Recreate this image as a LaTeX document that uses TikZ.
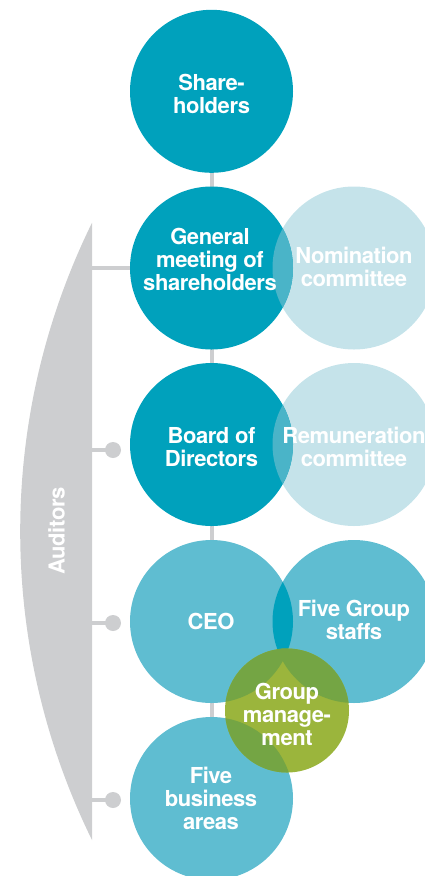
\documentclass[tikz,border=0pt]{standalone}
\usepackage{fontspec}
\setmainfont{TeX Gyre Heros}[LetterSpace=-2]
\usetikzlibrary{backgrounds}
\definecolor{tealdark}{HTML}{00A1BC}
\definecolor{teallight}{HTML}{C5E3EA}
\definecolor{tealmix}{HTML}{4AB4C8}
\definecolor{tealmid}{HTML}{5FBDD1}
\definecolor{leaf}{HTML}{9BB53C}
\definecolor{leafdark}{HTML}{74A544}
\definecolor{linkgray}{HTML}{CDCED0}
\begin{document}
\begin{tikzpicture}[x=1pt,y=-1pt,
  disc/.style={circle, inner sep=0pt, minimum size=163pt},
  lbl/.style={text=white, font=\bfseries\fontsize{22}{23}\selectfont,
    align=center, inner sep=0pt, anchor=north},
  link/.style={draw=linkgray, line width=4pt},
  knob/.style={circle, fill=linkgray, inner sep=0pt, minimum size=16pt}]
\useasboundingbox (0,0) rectangle (425,876);
\clip (0,0) rectangle (425,876);

% Auditors bar
\fill[linkgray] (92,840) arc[start angle=153.8, end angle=206.2, radius=699] -- cycle;
\node[lbl, anchor=center, rotate=90] (aud) at (56.5,531) {Auditors};

% governance circles
\node[disc, fill=tealdark] (sh) at (211.5,91.3) {};
\node[disc, fill=teallight] (nom) at (354,268) {};
\node[disc, fill=tealdark] (gm) at (211.5,268) {};
\begin{scope}
  \clip (gm.center) circle[radius=81.5];
  \fill[tealmix] (nom.center) circle[radius=81.5];
\end{scope}
\node[disc, fill=teallight] (rem) at (354,444.5) {};
\node[disc, fill=tealdark] (bd) at (211.5,444.5) {};
\begin{scope}
  \clip (bd.center) circle[radius=81.5];
  \fill[tealmix] (rem.center) circle[radius=81.5];
\end{scope}

% operational circles
\node[disc, fill=tealmid] (ceo) at (211.5,621.5) {};
\node[disc, fill=tealmid] (gs) at (354,621.5) {};
\node[disc, fill=tealmid] (ba) at (211.5,798.5) {};
\begin{scope}
  \clip (ceo.center) circle[radius=81.5];
  \fill[tealdark] (gs.center) circle[radius=81.5];
\end{scope}
\node[circle, inner sep=0pt, minimum size=124pt, fill=leaf] (gmt) at (287,710.5) {};
\foreach \o in {ceo,gs,ba}{
  \begin{scope}
    \clip (gmt.center) circle[radius=62];
    \fill[leafdark] (\o.center) circle[radius=81.5];
  \end{scope}
}

% knobs and anchor points on the Auditors bar
\coordinate (a1) at (92,268);
\coordinate (a2) at (92,450);
\coordinate (a3) at (92,623);
\coordinate (a4) at (92,800);
\node[knob] (kb) at (113,450) {};
\node[knob] (kc) at (113,623) {};
\node[knob] (ka) at (113,800) {};

\begin{pgfonlayer}{background}
  \draw[link] (sh.center) -- (ba.center);
  \draw[link] (a1) -- (gm.center);
  \draw[link] (a2) -- (kb.center);
  \draw[link] (a3) -- (kc.center);
  \draw[link] (a4) -- (ka.center);
\end{pgfonlayer}

% texts
\node[lbl] (t-sh) at (211.5,74) {Share-\\holders};
\node[lbl] (t-gm) at (210,228) {General\\meeting of\\shareholders};
\node[lbl] (t-nom) at (354,247) {Nomination\\committee};
\node[lbl] (t-bd) at (211.5,427) {Board of\\Directors};
\node[lbl] (t-rem) at (354,427) {Remuneration\\committee};
\node[lbl] (t-ceo) at (211,613) {CEO};
\node[lbl] (t-gs) at (354,600) {Five Group\\staffs};
\node[lbl] (t-gmt) at (287,683) {Group\\manage-\\ment};
\node[lbl] (t-ba) at (211,767) {Five\\business\\areas};
\end{tikzpicture}
\end{document}
